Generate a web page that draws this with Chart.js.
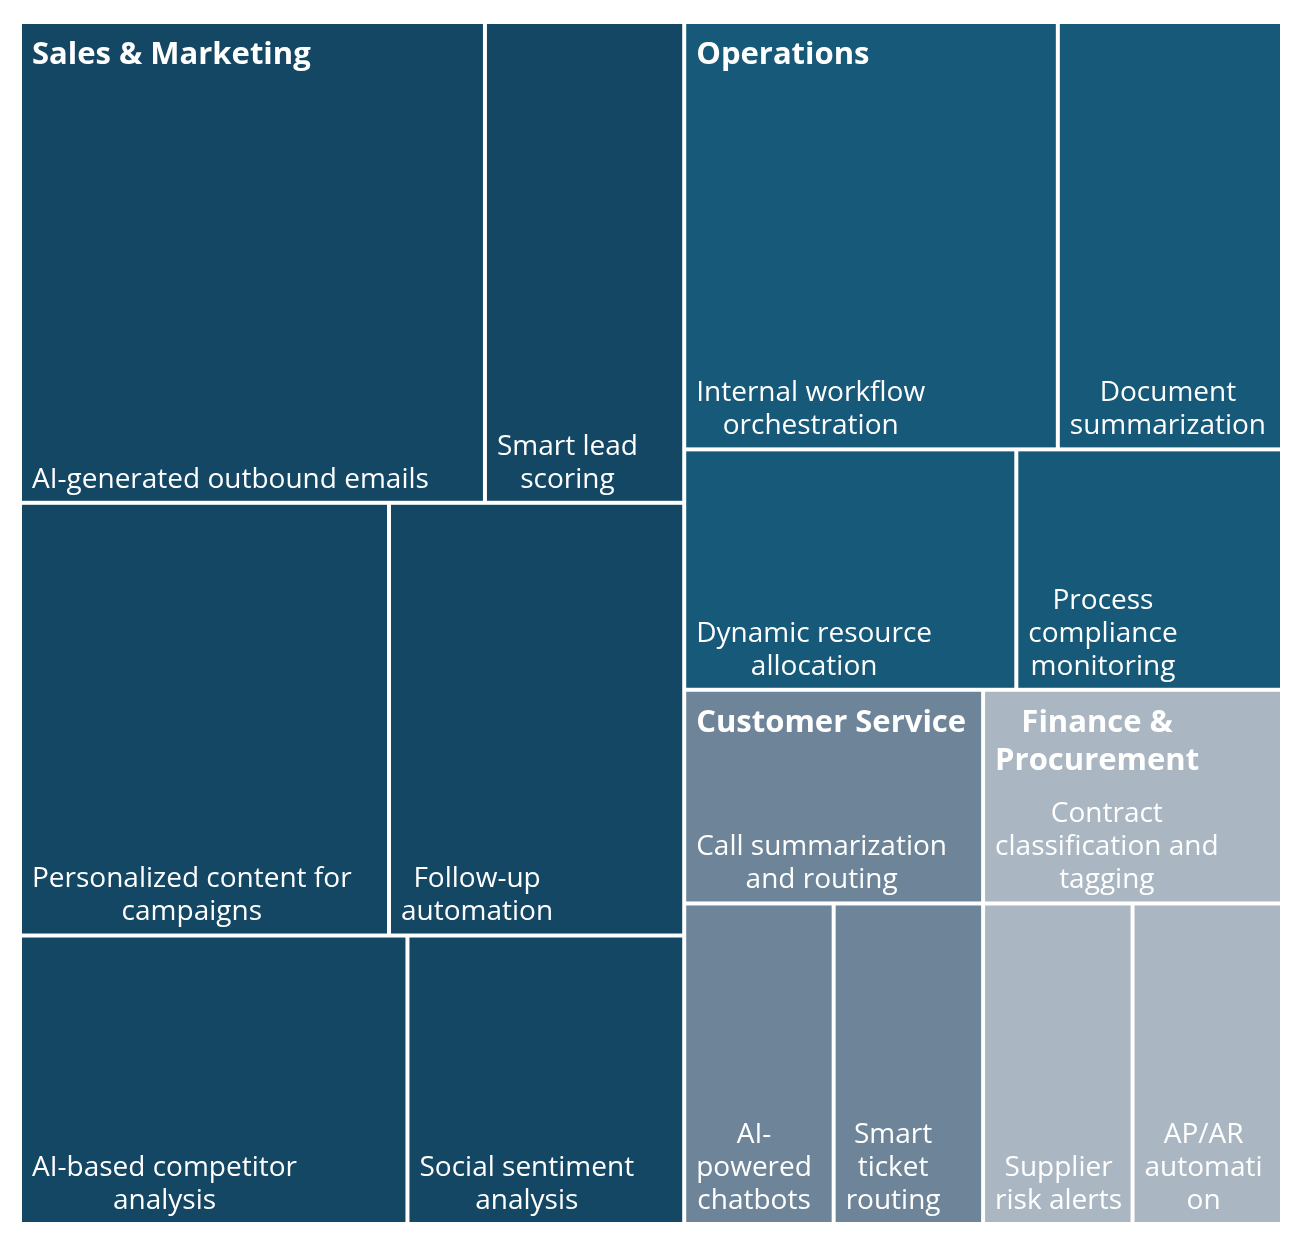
<!DOCTYPE html>
<html>
<head>
<meta charset="utf-8">
<script src="https://cdn.jsdelivr.net/npm/chart.js@4.4.1/dist/chart.umd.min.js"></script>
<style>
    body { margin: 0; background: #ffffff; }
    #wrap { width: 1304px; height: 1246px; position: relative; }
</style>
</head>
<body>
<div id="wrap"><canvas id="treeChart"></canvas></div>
<script>
// groups and their use cases, in data order
var groupNames = ["Sales & Marketing", "Operations", "Customer Service", "Finance & Procurement"];
var groupColors = ["#134764", "#175978", "#6e8599", "#aab6c1"];

var salesLabels = ["AI-generated outbound emails", "Smart lead scoring", "Personalized content for campaigns", "Follow-up automation", "AI-based competitor analysis", "Social sentiment analysis"];
var salesValues = [14, 6, 10, 8, 7, 5];

var opsLabels = ["Internal workflow orchestration", "Document summarization", "Dynamic resource allocation", "Process compliance monitoring"];
var opsValues = [10, 6, 5, 4];

var serviceLabels = ["Call summarization and routing", "AI-powered chatbots", "Smart ticket routing"];
var serviceValues = [4, 3, 3];

var financeLabels = ["Contract classification and tagging", "Supplier risk alerts", "AP/AR automation"];
var financeValues = [4, 3, 3];

var groupLabels = [salesLabels, opsLabels, serviceLabels, financeLabels];
var groupValues = [salesValues, opsValues, serviceValues, financeValues];

var RATIO = 1.112;
var FONT = "'Open Sans'";

function sum(arr) {
    return arr.reduce(function (a, b) { return a + b; }, 0);
}

// squarified layout (same steps as d3 treemapSquarify), in data units;
// pxW / pxH = pixels per data unit so aspect ratios are judged on screen
function squarify(values, x0, y0, x1, y1, pxW, pxH, ratio) {
    var out = [];
    var value = sum(values);
    var i0 = 0, i1 = 0, n = values.length;
    while (i0 < n) {
        var dx = (x1 - x0) * pxW, dy = (y1 - y0) * pxH;
        var sumValue = values[i1++];
        var minValue = sumValue, maxValue = sumValue;
        var alpha = Math.max(dy / dx, dx / dy) / (value * ratio);
        var beta = sumValue * sumValue * alpha;
        var minRatio = Math.max(maxValue / beta, beta / minValue);
        for (; i1 < n; ++i1) {
            var v = values[i1];
            sumValue += v;
            if (v < minValue) minValue = v;
            if (v > maxValue) maxValue = v;
            beta = sumValue * sumValue * alpha;
            var newRatio = Math.max(maxValue / beta, beta / minValue);
            if (newRatio > minRatio) { sumValue -= v; break; }
            minRatio = newRatio;
        }
        var k, pos;
        if (dx < dy) {
            var yEnd = y0 + (y1 - y0) * sumValue / value;
            pos = x0;
            for (k = i0; k < i1; k++) {
                var w = (x1 - x0) * values[k] / sumValue;
                out[k] = { x0: pos, y0: y0, x1: pos + w, y1: yEnd };
                pos += w;
            }
            y0 = yEnd;
        } else {
            var xEnd = x0 + (x1 - x0) * sumValue / value;
            pos = y0;
            for (k = i0; k < i1; k++) {
                var h = (y1 - y0) * values[k] / sumValue;
                out[k] = { x0: x0, y0: pos, x1: xEnd, y1: pos + h };
                pos += h;
            }
            x0 = xEnd;
        }
        value -= sumValue;
        i0 = i1;
    }
    return out;
}

function wrapText(ctx, text, maxWidth) {
    var words = text.split(" ");
    var lines = [];
    var line = "";
    words.forEach(function (word) {
        var test = line ? line + " " + word : word;
        if (ctx.measureText(test).width <= maxWidth) { line = test; return; }
        if (line) { lines.push(line); line = ""; }
        while (ctx.measureText(word).width > maxWidth) {
            var cut = word.indexOf("-");
            if (cut > 0 && ctx.measureText(word.slice(0, cut + 1)).width <= maxWidth) {
                lines.push(word.slice(0, cut + 1));
                word = word.slice(cut + 1);
                continue;
            }
            var m = word.length - 1;
            while (m > 1 && ctx.measureText(word.slice(0, m)).width > maxWidth) m--;
            lines.push(word.slice(0, m));
            word = word.slice(m);
        }
        line = word;
    });
    if (line) lines.push(line);
    return lines;
}

// lines centred on each other, block pinned to the left edge
function drawBlock(ctx, lines, left, firstY, lineH) {
    var blockW = 0;
    lines.forEach(function (l) { blockW = Math.max(blockW, ctx.measureText(l).width); });
    ctx.textAlign = "center";
    ctx.textBaseline = "middle";
    lines.forEach(function (l, i) {
        ctx.fillText(l, left + blockW / 2, firstY + i * lineH);
    });
}

var treemapPlugin = {
    id: "treemap",
    afterDatasetsDraw: function (chart) {
        var ctx = chart.ctx;
        var xs = chart.scales.x, ys = chart.scales.y;
        var pxW = Math.abs(xs.getPixelForValue(1) - xs.getPixelForValue(0));
        var pxH = Math.abs(ys.getPixelForValue(1) - ys.getPixelForValue(0));
        var totals = groupValues.map(sum);
        var groupRects = squarify(totals, 0, 0, 100, 100, pxW, pxH, RATIO);

        function toPx(r) {
            var l = xs.getPixelForValue(r.x0), rr = xs.getPixelForValue(r.x1);
            var t = ys.getPixelForValue(r.y0), b = ys.getPixelForValue(r.y1);
            return { left: l, top: t, width: rr - l, height: b - t, right: rr, bottom: b };
        }

        var leaves = [];
        groupRects.forEach(function (g, gi) {
            var cells = squarify(groupValues[gi], g.x0, g.y0, g.x1, g.y1, pxW, pxH, RATIO);
            cells.forEach(function (c, ci) {
                leaves.push({ px: toPx(c), label: groupLabels[gi][ci], color: groupColors[gi] });
            });
        });

        ctx.save();
        leaves.forEach(function (lf) {
            ctx.fillStyle = lf.color;
            ctx.fillRect(lf.px.left + 2, lf.px.top + 2, lf.px.width - 4, lf.px.height - 4);
        });

        ctx.fillStyle = "#ffffff";
        ctx.font = "28px " + FONT;
        leaves.forEach(function (lf) {
            var lines = wrapText(ctx, lf.label, lf.px.width - 22);
            var firstY = lf.px.bottom - 23 - (lines.length - 1) * 33;
            drawBlock(ctx, lines, lf.px.left + 12, firstY, 33);
        });

        ctx.font = "bold 31px " + FONT;
        groupRects.forEach(function (g, gi) {
            var px = toPx(g);
            var lines = wrapText(ctx, groupNames[gi], px.width - 22);
            drawBlock(ctx, lines, px.left + 12, px.top + 33, 38);
        });
        ctx.restore();
    }
};

new Chart(document.getElementById("treeChart"), {
    type: "scatter",
    data: { datasets: [{ data: [], pointRadius: 0 }] },
    options: {
        responsive: true,
        maintainAspectRatio: false,
        animation: false,
        layout: { padding: { left: 20, right: 22, top: 22, bottom: 22 } },
        plugins: { legend: { display: false }, tooltip: { enabled: false } },
        scales: {
            x: { type: "linear", min: 0, max: 100, display: false },
            y: { type: "linear", min: 0, max: 100, reverse: true, display: false }
        }
    },
    plugins: [treemapPlugin]
});
</script>
</body>
</html>
